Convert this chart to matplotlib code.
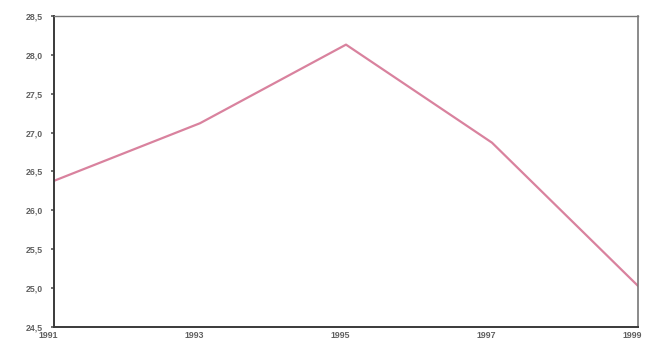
import matplotlib
matplotlib.use("Agg")
import matplotlib.pyplot as plt
import matplotlib.transforms as mtransforms

years = [1991, 1993, 1995, 1997, 1999]
values = [26.38, 27.12, 28.13, 26.87, 25.03]
yticks = [24.5, 25.0, 25.5, 26.0, 26.5, 27.0, 27.5, 28.0, 28.5]
ytick_labels = ["24,5", "25,0", "25,5", "26,0", "26,5", "27,0", "27,5", "28,0", "28,5"]
xtick_labels = ["1991", "1993", "1995", "1997", "1999"]

fig = plt.figure(figsize=(6.46, 3.44), dpi=100)
ax = fig.add_axes([0.0836, 0.049, 0.904, 0.905])
ax.plot(years, values, color="#d9829e", linewidth=1.6)
ax.set_xlim(1991, 1999)
ax.set_ylim(24.5, 28.5)
ax.set_yticks(yticks)
ax.set_yticklabels(ytick_labels)
ax.set_xticks(years)
ax.set_xticklabels([])
for lab in ax.get_yticklabels():
    lab.set_fontsize(6.3)
    lab.set_fontweight("bold")
    lab.set_color("#606060")
    lab.set_family(["Liberation Sans", "DejaVu Sans"])

base = ax.get_xaxis_transform()
shift = mtransforms.ScaledTranslation(-6 / 100, -4 / 100, fig.dpi_scale_trans)
for yr, lab in zip(years, xtick_labels):
    ax.text(yr, 0, lab, transform=base + shift, ha="center", va="top",
            fontsize=6.3, fontweight="bold", color="#606060",
            family=["Liberation Sans", "DejaVu Sans"], clip_on=False)

ax.tick_params(axis="y", direction="out", length=2, width=1.2, color="#555555", pad=6)
ax.tick_params(axis="x", direction="out", length=0, pad=2)
ax.spines["left"].set_color("#3a3a3a")
ax.spines["left"].set_linewidth(1.4)
ax.spines["bottom"].set_color("#3a3a3a")
ax.spines["bottom"].set_linewidth(1.4)
ax.spines["top"].set_color("#777777")
ax.spines["top"].set_linewidth(1.0)
ax.spines["right"].set_color("#777777")
ax.spines["right"].set_linewidth(1.2)
fig.savefig("out.png", dpi=100)
